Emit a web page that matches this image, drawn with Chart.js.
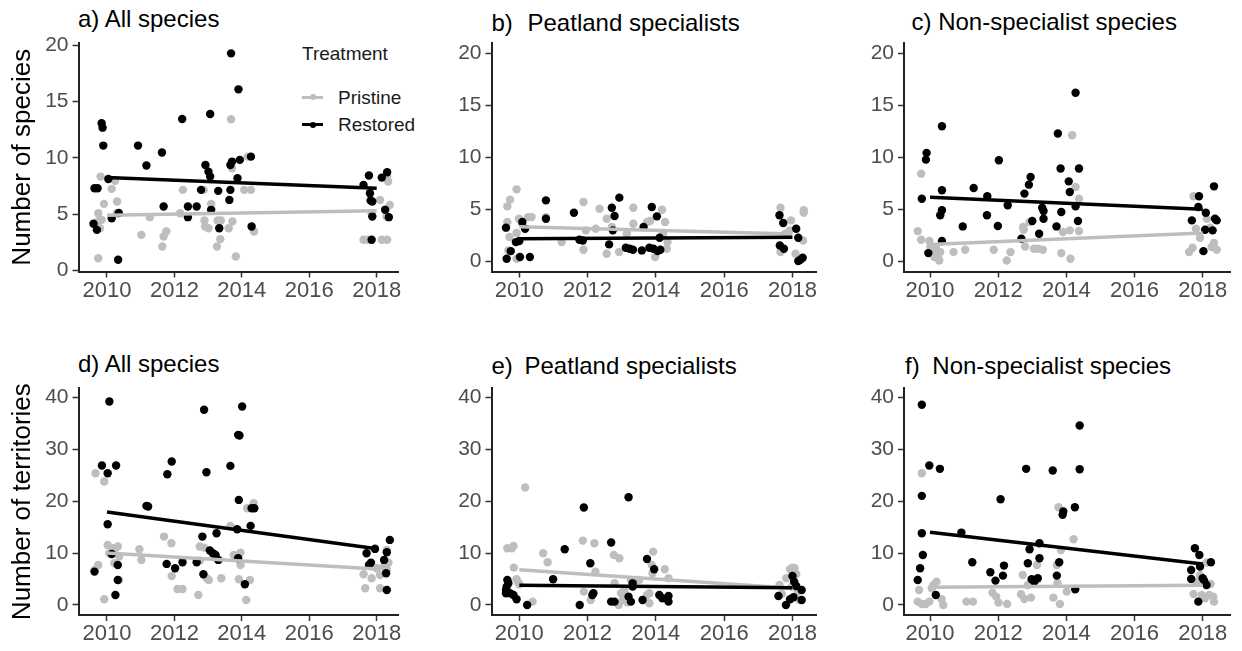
<!DOCTYPE html>
<html>
<head>
<meta charset="utf-8">
<script src="https://cdn.jsdelivr.net/npm/chart.js@4.4.1/dist/chart.umd.min.js"></script>
<style>
html,body{margin:0;padding:0;background:#fff;}
#wrap{position:relative;width:1242px;height:651px;overflow:hidden;font-family:"Liberation Sans",Arial,sans-serif;}
canvas{position:absolute;}
.ttl{position:absolute;font-size:24px;line-height:1;color:#000;white-space:nowrap;}
.leg{position:absolute;font-size:19px;line-height:1;color:#1a1a1a;white-space:nowrap;}
.key{position:absolute;height:3px;width:21px;}
.kdot{position:absolute;width:6px;height:6px;border-radius:50%;}
</style>
</head>
<body>
<div id="wrap">
  <div class="ttl" style="left:78px;top:6.5px">a) All species</div>
  <div class="ttl" style="left:491.5px;top:11px"><span>b)</span> <span style="margin-left:8px">Peatland specialists</span></div>
  <div class="ttl" style="left:911.5px;top:10px"><span>c)</span> <span style="margin-left:0px">Non-specialist species</span></div>
  <div class="ttl" style="left:78px;top:351.5px">d) All species</div>
  <div class="ttl" style="left:491.5px;top:354px"><span>e)</span> <span style="margin-left:5px">Peatland specialists</span></div>
  <div class="ttl" style="left:905px;top:354px"><span>f)</span> <span style="margin-left:6px">Non-specialist species</span></div>

  <div class="leg" style="left:302px;top:44px">Treatment</div>
  <div class="key" style="left:302px;top:95.5px;background:#bebebe"></div>
  <div class="kdot" style="left:309.5px;top:94px;background:#bebebe"></div>
  <div class="leg" style="left:338px;top:87.5px">Pristine</div>
  <div class="key" style="left:302px;top:123px;background:#000"></div>
  <div class="kdot" style="left:309.5px;top:121.5px;background:#000"></div>
  <div class="leg" style="left:338px;top:115px">Restored</div>
</div>
<script>
// ---------- DATA ----------
const fitYears = [2010, 2018];
const xTicks = [2010, 2012, 2014, 2016, 2018];
const yTicksSpecies = [0, 5, 10, 15, 20];
const yTicksTerritories = [0, 10, 20, 30, 40];
const treatments = ['Pristine', 'Restored'];

// a) All species - number of species
const aPristine = [[2009.74,1.09],[2009.74,5.08],[2009.74,4.34],[2009.79,3.75],[2009.84,4.49],[2009.81,8.33],[2009.91,5.91],[2010.14,7.24],[2010.24,7.95],[2010.30,6.12],[2010.29,5.08],[2011.02,3.16],[2011.27,4.73],[2011.64,2.13],[2011.68,3.01],[2011.76,3.46],[2012.17,5.08],[2012.25,7.15],[2012.87,7.15],[2012.89,4.43],[2012.91,3.90],[2013.01,3.75],[2013.09,5.91],[2013.26,2.13],[2013.36,2.78],[2013.28,4.43],[2013.38,4.43],[2013.68,13.41],[2013.71,9.07],[2013.72,4.34],[2013.61,3.75],[2013.82,1.24],[2014.17,10.10],[2014.07,7.15],[2014.27,7.15],[2014.36,3.46],[2017.61,2.72],[2017.75,2.72],[2017.85,5.08],[2018.10,6.26],[2018.15,2.72],[2018.31,2.72],[2018.28,5.44],[2018.31,8.33],[2018.34,7.89],[2018.39,5.82],[2018.29,4.79]];
const aRestored = [[2009.63,7.30],[2009.72,7.30],[2009.60,4.14],[2009.70,3.60],[2009.84,13.06],[2009.87,12.67],[2009.89,11.08],[2010.04,8.12],[2010.14,4.64],[2010.35,5.10],[2010.33,0.95],[2010.92,11.08],[2011.17,9.31],[2011.63,10.46],[2011.68,5.67],[2012.23,13.44],[2012.40,5.67],[2012.40,4.73],[2012.66,5.67],[2012.79,7.15],[2012.92,9.36],[2013.01,8.77],[2013.06,8.33],[2013.06,13.88],[2013.09,5.38],[2013.30,7.06],[2013.33,3.75],[2013.63,6.26],[2013.66,7.15],[2013.66,9.36],[2013.71,9.66],[2013.68,19.26],[2013.87,8.18],[2013.90,16.07],[2013.94,9.81],[2014.27,10.10],[2014.29,3.90],[2017.61,7.59],[2017.77,8.42],[2017.80,6.85],[2017.82,6.20],[2017.87,6.12],[2017.87,4.79],[2017.85,2.72],[2018.15,8.24],[2018.31,8.71],[2018.25,5.38],[2018.36,4.73]];
const aPristineFit = [4.9, 5.3];
const aRestoredFit = [8.25, 7.3];

// b) Peatland specialists - number of species
const bPristine = [[2009.65,5.27],[2009.73,5.92],[2009.92,6.91],[2009.65,3.76],[2009.68,1.03],[2009.71,2.32],[2009.92,2.70],[2009.92,0.23],[2009.99,4.08],[2010.07,3.67],[2010.26,4.24],[2010.36,4.24],[2010.78,4.24],[2011.24,1.83],[2011.88,5.69],[2011.88,1.09],[2011.95,2.96],[2012.24,3.12],[2012.35,5.05],[2012.56,4.08],[2012.56,0.71],[2012.71,3.28],[2012.92,0.87],[2013.15,2.64],[2013.34,5.14],[2013.34,3.60],[2013.74,3.76],[2013.83,3.86],[2013.98,0.39],[2014.18,4.95],[2014.27,3.76],[2014.21,2.64],[2014.32,1.19],[2014.34,1.83],[2017.65,5.14],[2017.65,0.87],[2017.79,2.64],[2017.92,2.96],[2017.96,3.92],[2018.09,0.71],[2018.31,1.99],[2018.33,4.89],[2018.33,4.66]];
const bRestored = [[2009.63,0.23],[2009.61,3.22],[2009.75,0.96],[2009.90,1.83],[2010.00,1.93],[2010.02,0.39],[2010.09,3.76],[2010.17,3.12],[2010.31,0.39],[2010.78,5.85],[2010.78,4.08],[2011.60,4.66],[2011.76,2.06],[2011.86,1.99],[2012.63,1.61],[2012.71,5.14],[2012.79,4.34],[2012.74,2.96],[2012.93,6.11],[2013.12,1.29],[2013.23,1.19],[2013.33,1.09],[2013.59,1.03],[2013.64,3.28],[2013.81,1.29],[2013.93,1.19],[2014.05,0.96],[2014.13,1.09],[2013.88,5.21],[2014.03,4.31],[2014.11,2.25],[2017.62,4.41],[2017.73,3.67],[2017.63,1.51],[2017.75,1.19],[2018.11,3.12],[2018.17,2.25],[2018.17,0.00],[2018.30,0.32],[2018.23,0.13]];
const bPristineFit = [3.3, 2.6];
const bRestoredFit = [2.15, 2.3];

// c) Non-specialist species - number of species
const cPristine = [[2009.64,2.89],[2009.74,8.42],[2009.74,2.06],[2009.98,1.93],[2010.01,1.35],[2010.08,0.71],[2010.13,0.39],[2010.18,1.19],[2010.27,0.06],[2010.30,0.87],[2010.23,0.45],[2010.69,0.87],[2011.03,1.09],[2011.87,1.09],[2012.25,0.06],[2012.36,0.87],[2012.73,3.28],[2012.75,3.02],[2012.79,1.41],[2012.92,3.76],[2013.05,1.19],[2013.17,1.19],[2013.31,1.09],[2013.85,0.77],[2013.90,2.80],[2014.10,2.96],[2014.12,0.23],[2014.17,12.12],[2014.27,7.14],[2014.37,6.01],[2014.37,2.89],[2017.60,0.87],[2017.70,1.29],[2017.73,6.24],[2017.80,3.12],[2017.92,2.25],[2018.12,4.08],[2018.22,3.22],[2018.26,1.35],[2018.33,1.74],[2018.41,1.09]];
const cRestored = [[2009.76,6.01],[2009.88,9.77],[2009.90,10.42],[2009.95,0.77],[2010.35,12.99],[2010.35,6.82],[2010.35,4.89],[2010.30,4.41],[2010.35,1.93],[2010.96,3.34],[2011.28,7.04],[2011.68,6.24],[2011.67,4.41],[2011.99,3.38],[2012.02,9.71],[2012.28,5.37],[2012.68,2.15],[2012.77,6.50],[2012.90,7.36],[2012.95,8.10],[2013.00,3.86],[2013.20,2.64],[2013.29,5.14],[2013.33,4.82],[2013.33,4.08],[2013.75,12.28],[2013.71,3.34],[2013.83,8.91],[2013.85,4.73],[2014.07,7.68],[2014.10,6.66],[2014.27,16.21],[2014.27,5.27],[2014.34,3.86],[2014.37,8.91],[2017.68,3.92],[2017.89,6.24],[2017.87,5.21],[2018.02,0.96],[2018.09,4.66],[2018.07,3.02],[2018.29,2.96],[2018.33,7.20],[2018.36,4.08],[2018.41,3.92]];
const cPristineFit = [1.6, 2.7];
const cRestoredFit = [6.15, 5.0];

// d) All species - number of territories
const dPristine = [[2009.66,25.36],[2009.92,23.76],[2009.63,6.74],[2009.74,7.70],[2009.92,1.09],[2010.02,11.56],[2010.07,9.95],[2010.17,10.91],[2010.22,10.59],[2010.32,11.24],[2010.36,9.31],[2010.22,8.03],[2010.36,4.82],[2010.96,10.72],[2011.02,8.67],[2011.69,13.16],[2011.91,11.88],[2011.92,5.59],[2012.09,3.08],[2012.24,3.08],[2012.71,1.93],[2012.75,11.24],[2012.88,11.04],[2012.76,8.54],[2012.96,5.14],[2013.02,4.82],[2013.39,5.14],[2013.32,8.67],[2013.66,15.22],[2013.76,9.63],[2013.91,4.94],[2013.96,10.08],[2013.96,7.70],[2014.13,0.96],[2014.24,4.82],[2014.16,18.62],[2014.35,19.58],[2017.61,5.91],[2017.66,3.21],[2017.85,5.14],[2017.95,10.91],[2018.00,7.06],[2018.10,5.78],[2018.10,3.21],[2018.20,7.38],[2018.25,8.15],[2018.30,10.59],[2018.35,8.15],[2018.30,6.87]];
const dRestored = [[2009.63,6.42],[2009.85,26.84],[2010.02,25.36],[2010.07,39.17],[2010.02,15.54],[2010.14,9.82],[2010.32,7.70],[2010.25,1.93],[2010.27,26.84],[2010.32,4.82],[2011.17,19.07],[2011.22,18.94],[2011.79,25.17],[2011.92,27.61],[2011.77,7.90],[2012.02,7.06],[2012.24,8.22],[2012.66,8.22],[2012.83,13.16],[2012.88,37.56],[2012.86,5.91],[2012.95,25.55],[2013.05,10.47],[2013.14,9.95],[2013.22,9.63],[2013.25,13.80],[2013.30,8.67],[2013.66,26.77],[2013.86,14.57],[2013.89,32.74],[2013.93,32.62],[2013.91,20.22],[2013.89,8.99],[2014.01,38.20],[2014.09,3.98],[2014.26,15.22],[2014.29,18.62],[2014.37,18.62],[2017.70,9.95],[2017.77,7.70],[2017.83,8.15],[2017.95,10.79],[2018.22,8.67],[2018.28,6.10],[2018.30,2.89],[2018.30,10.14],[2018.39,12.52]];
const dPristineFit = [10.0, 6.9];
const dRestoredFit = [17.9, 10.8];

// e) Peatland specialists - number of territories
const ePristine = [[2009.65,10.91],[2009.78,10.91],[2009.83,11.36],[2009.84,7.19],[2009.92,4.94],[2009.97,4.30],[2010.00,3.98],[2010.17,22.60],[2010.39,0.64],[2010.70,9.95],[2010.83,8.22],[2011.86,12.39],[2011.89,2.57],[2012.09,0.96],[2012.20,11.88],[2012.23,6.42],[2012.77,9.63],[2012.93,8.99],[2012.79,4.17],[2012.91,0.00],[2012.98,2.25],[2013.08,2.89],[2013.17,0.45],[2013.03,0.96],[2013.27,4.82],[2013.51,4.82],[2013.74,1.93],[2013.81,0.32],[2013.81,2.25],[2013.92,10.27],[2013.88,7.70],[2013.90,6.10],[2014.26,6.87],[2014.37,5.14],[2017.62,3.85],[2017.69,2.12],[2017.82,5.14],[2017.93,6.87],[2018.00,7.19],[2018.06,7.06],[2018.11,5.97],[2018.20,0.96],[2018.15,2.57],[2017.98,3.53]];
const eRestored = [[2009.65,4.82],[2009.68,4.17],[2009.63,3.53],[2009.61,2.89],[2009.61,2.25],[2009.73,2.25],[2009.83,1.93],[2009.92,1.09],[2010.23,0.00],[2010.99,4.94],[2011.33,10.72],[2011.77,0.00],[2011.89,18.75],[2012.08,8.03],[2012.17,2.25],[2012.14,1.93],[2012.69,12.01],[2012.69,0.64],[2012.79,0.64],[2013.20,20.74],[2013.20,1.61],[2013.32,3.53],[2013.32,4.17],[2013.27,0.64],[2013.61,0.96],[2013.74,8.86],[2013.95,6.87],[2014.10,1.93],[2014.19,1.28],[2014.37,1.73],[2014.37,0.64],[2017.59,1.73],[2017.81,0.00],[2017.93,1.09],[2018.00,5.59],[2018.05,4.49],[2018.11,3.66],[2018.27,2.89],[2018.27,0.96],[2018.03,1.48]];
const ePristineFit = [6.8, 3.2];
const eRestoredFit = [3.8, 3.3];

// f) Non-specialist species - number of territories
const fPristine = [[2009.76,25.36],[2009.68,2.89],[2009.64,0.64],[2009.76,0.19],[2009.87,0.19],[2009.98,0.64],[2010.05,3.21],[2010.10,3.85],[2010.19,4.49],[2010.34,1.09],[2010.39,0.00],[2011.07,0.64],[2011.26,0.64],[2011.83,2.38],[2011.94,1.61],[2012.01,0.45],[2012.26,0.19],[2012.72,5.78],[2012.67,2.05],[2012.77,1.16],[2012.96,1.41],[2012.87,3.85],[2013.14,7.70],[2013.62,1.41],[2013.81,0.19],[2013.72,7.70],[2013.77,18.81],[2013.84,10.59],[2013.74,4.17],[2014.01,2.57],[2014.21,12.65],[2017.73,2.12],[2017.82,4.49],[2017.92,5.78],[2017.97,1.93],[2018.07,1.28],[2018.11,8.15],[2018.19,1.93],[2018.23,4.04],[2018.31,1.61],[2018.33,0.64]];
const fRestored = [[2009.76,38.52],[2009.76,21.00],[2009.76,13.80],[2009.79,9.63],[2009.71,7.06],[2009.64,4.82],[2009.98,26.84],[2010.29,26.20],[2010.17,1.93],[2010.92,13.93],[2011.24,8.22],[2011.77,6.29],[2011.92,4.69],[2012.07,20.35],[2012.14,5.65],[2012.17,7.58],[2012.82,26.20],[2012.87,8.03],[2012.92,10.72],[2012.98,4.94],[2013.06,4.49],[2013.16,5.14],[2013.21,11.88],[2013.21,8.99],[2013.60,25.87],[2013.72,5.65],[2013.79,8.22],[2013.89,17.34],[2013.91,17.98],[2014.25,18.81],[2014.26,3.02],[2014.39,34.54],[2014.39,26.13],[2017.66,6.74],[2017.66,5.01],[2017.77,10.91],[2017.90,9.63],[2017.92,7.38],[2018.00,5.14],[2018.04,4.69],[2017.87,0.64],[2018.11,3.85],[2018.24,8.22]];
const fPristineFit = [3.4, 3.8];
const fRestoredFit = [14.0, 7.9];

// ---------- STYLE / LAYOUT ----------
const GREY = '#bebebe', BLACK = '#000000';
const FAM = '"Liberation Sans", Arial, sans-serif';
const wrap = document.getElementById('wrap');

const panels = [
  {p:aPristine, r:aRestored, pf:aPristineFit, rf:aRestoredFit, yt:yTicksSpecies, ymin:-0.09, ymax:20.18, ytitle:'Number of species',
   cx:0, cy:0, cw:420, ch:300, padTop:43, padRight:22, yw:78.5, xh:28.5, xmin:2009.155, xmax:2018.632},
  {p:bPristine, r:bRestored, pf:bPristineFit, rf:bRestoredFit, yt:yTicksSpecies, ymin:-1, ymax:21, ytitle:null,
   cx:420, cy:0, cw:420, ch:300, padTop:43, padRight:23.3, yw:71.5, xh:28.5, xmin:2009.186, xmax:2018.71},
  {p:cPristine, r:cRestored, pf:cPristineFit, rf:cRestoredFit, yt:yTicksSpecies, ymin:-1, ymax:21, ytitle:null,
   cx:840, cy:0, cw:402, ch:300, padTop:43, padRight:11.3, yw:64, xh:28.5, xmin:2009.237, xmax:2018.82},
  {p:dPristine, r:dRestored, pf:dPristineFit, rf:dRestoredFit, yt:yTicksTerritories, ymin:-1.93, ymax:41.7, ytitle:'Number of territories',
   cx:0, cy:300, cw:420, ch:351, padTop:88.3, padRight:22, yw:78.5, xh:36, xmin:2009.155, xmax:2018.632},
  {p:ePristine, r:eRestored, pf:ePristineFit, rf:eRestoredFit, yt:yTicksTerritories, ymin:-1.93, ymax:41.7, ytitle:null,
   cx:420, cy:300, cw:420, ch:351, padTop:88.3, padRight:23.3, yw:71.5, xh:36, xmin:2009.186, xmax:2018.71},
  {p:fPristine, r:fRestored, pf:fPristineFit, rf:fRestoredFit, yt:yTicksTerritories, ymin:-1.93, ymax:41.7, ytitle:null,
   cx:840, cy:300, cw:402, ch:351, padTop:88.3, padRight:11.3, yw:64, xh:36, xmin:2009.237, xmax:2018.82}
];

const toPts = arr => arr.map(([x, y]) => ({x, y}));
const fitPts = v => fitYears.map((x, i) => ({x, y: v[i]}));

panels.forEach(P => {
  const cv = document.createElement('canvas');
  cv.width = P.cw; cv.height = P.ch;
  cv.style.left = P.cx + 'px'; cv.style.top = P.cy + 'px';
  cv.style.width = P.cw + 'px'; cv.style.height = P.ch + 'px';
  wrap.appendChild(cv);
  new Chart(cv, {
    type: 'scatter',
    data: {datasets: [
      {label: treatments[1] + ' fit', data: fitPts(P.rf), showLine: true, borderColor: BLACK, borderWidth: 3.5, pointRadius: 0, order: 0, borderCapStyle: 'butt'},
      {label: treatments[0] + ' fit', data: fitPts(P.pf), showLine: true, borderColor: GREY, borderWidth: 3.5, pointRadius: 0, order: 1, borderCapStyle: 'butt'},
      {label: treatments[1], data: toPts(P.r), backgroundColor: BLACK, borderWidth: 0, pointRadius: 4.2, order: 2},
      {label: treatments[0], data: toPts(P.p), backgroundColor: GREY, borderWidth: 0, pointRadius: 4.2, order: 3}
    ]},
    options: {
      responsive: false, animation: false, devicePixelRatio: 1,
      layout: {padding: {left: 0, top: P.padTop, right: P.padRight, bottom: 0}},
      plugins: {legend: {display: false}, tooltip: {enabled: false}, title: {display: false}},
      scales: {
        x: {
          type: 'linear', min: P.xmin, max: P.xmax,
          afterFit: s => { s.height = P.xh; },
          afterBuildTicks: s => { s.ticks = xTicks.map(v => ({value: v})); },
          grid: {display: true, drawOnChartArea: false, drawTicks: true, tickLength: 6, tickColor: '#333', tickWidth: 1.5},
          border: {display: true, color: '#222', width: 2},
          ticks: {color: '#4d4d4d', font: {size: 22, family: FAM}, padding: 0, autoSkip: false, maxRotation: 0, callback: v => String(v)}
        },
        y: {
          type: 'linear', min: P.ymin, max: P.ymax,
          afterFit: s => { s.width = P.yw; },
          afterBuildTicks: s => { s.ticks = P.yt.map(v => ({value: v})); },
          grid: {display: true, drawOnChartArea: false, drawTicks: true, tickLength: 6, tickColor: '#333', tickWidth: 1.5},
          border: {display: true, color: '#222', width: 2},
          ticks: {color: '#4d4d4d', font: {size: 21, family: FAM}, padding: 4, autoSkip: false, callback: v => String(v)},
          title: P.ytitle ? {display: true, text: P.ytitle, color: '#000', font: {size: 26, family: FAM}, padding: {top: 7, bottom: 0}} : {display: false}
        }
      }
    }
  });
});
</script>
</body>
</html>
